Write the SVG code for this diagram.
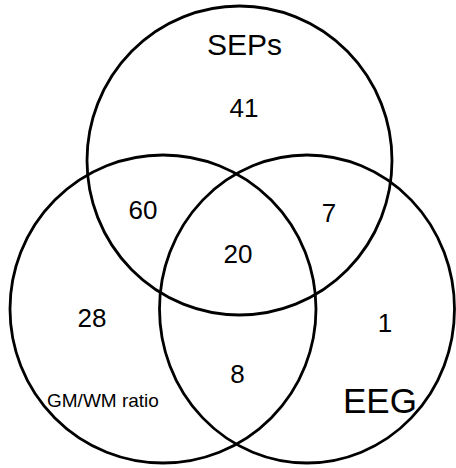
<svg xmlns="http://www.w3.org/2000/svg" width="456" height="468" viewBox="0 0 456 468">
<style>
.c{fill:none;stroke:#000;stroke-width:2.8}
text{font-family:"Liberation Sans",Arial,sans-serif;fill:#000}
.n{font-size:26px;text-anchor:middle}
</style>
<rect width="456" height="468" fill="#fff"/>
<g id="sets">
<g id="seps"><ellipse class="c" cx="239.5" cy="160.5" rx="152.5" ry="154.5"/><text x="207" y="55" font-size="30">SEPs</text></g>
<g id="gmwm"><ellipse class="c" cx="163" cy="309" rx="153" ry="154"/><text x="47" y="407" font-size="19">GM/WM ratio</text></g>
<g id="eeg"><ellipse class="c" cx="307" cy="309" rx="147.5" ry="154"/><text x="343" y="413" font-size="35">EEG</text></g>
</g>
<g id="counts">
<text class="n" x="244" y="117">41</text>
<text class="n" x="143" y="219">60</text>
<text class="n" x="329" y="222">7</text>
<text class="n" x="238" y="263">20</text>
<text class="n" x="92" y="327">28</text>
<text class="n" x="385" y="332">1</text>
<text class="n" x="237.5" y="383">8</text>
</g>
</svg>
